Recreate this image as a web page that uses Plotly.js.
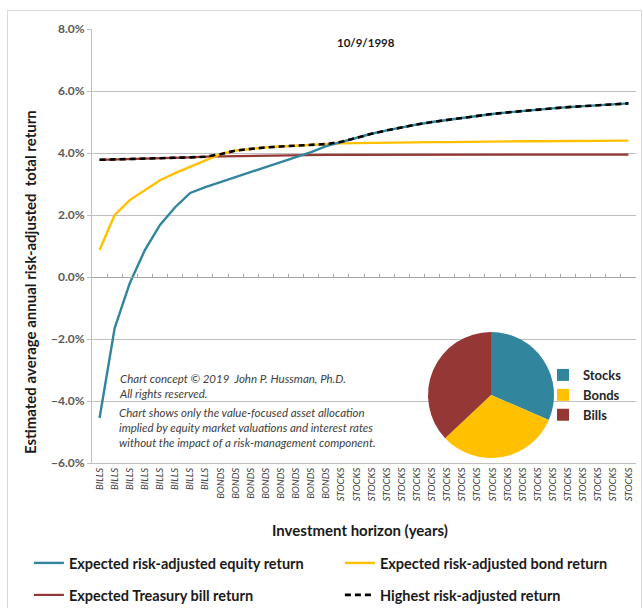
<!DOCTYPE html>
<html>
<head>
<meta charset="utf-8">
<script src="https://cdn.plot.ly/plotly-3.0.1.min.js"></script>
<style>
  html, body { margin: 0; padding: 0; background: #ffffff; }
  #frame { position: absolute; left: 7px; top: 10px; width: 633px; height: 610px; border: 1px solid #d9d9d9; }
  #chart { position: absolute; left: 0; top: 0; width: 643px; height: 608px; }
  #chart .crisp, #chart path.ygrid { shape-rendering: crispEdges; }
</style>
</head>
<body>
<div id="frame"></div>
<div id="chart"></div>
<script>
// ---- data ----
const horizonIndex = [0,1,2,3,4,5,6,7,8,9,10,11,12,13,14,15,16,17,18,19,20,21,22,23,24,25,26,27,28,29,30,31,32,33,34,35];
const horizonLabels = [
  'BILLS','BILLS','BILLS','BILLS','BILLS','BILLS','BILLS','BILLS',
  'BONDS','BONDS','BONDS','BONDS','BONDS','BONDS','BONDS','BONDS',
  'STOCKS','STOCKS','STOCKS','STOCKS','STOCKS','STOCKS','STOCKS','STOCKS','STOCKS','STOCKS',
  'STOCKS','STOCKS','STOCKS','STOCKS','STOCKS','STOCKS','STOCKS','STOCKS','STOCKS','STOCKS'
];
const equityReturn = [-4.55,-1.65,-0.2,0.87,1.68,2.25,2.71,2.9,3.06,3.22,3.38,3.55,3.72,3.88,4.03,4.22,
  4.36,4.5,4.62,4.73,4.83,4.92,5.0,5.07,5.14,5.2,5.26,5.31,5.36,5.4,5.44,5.48,5.51,5.54,5.57,5.6];
const bondReturn = [0.87,2.0,2.48,2.8,3.12,3.35,3.55,3.75,3.96,4.08,4.14,4.18,4.21,4.24,4.27,4.29,
  4.31,4.32,4.33,4.33,4.34,4.34,4.35,4.35,4.36,4.36,4.37,4.37,4.38,4.38,4.38,4.39,4.39,4.39,4.4,4.4];
const billReturn = [3.78,3.79,3.8,3.82,3.83,3.85,3.86,3.88,3.89,3.9,3.91,3.92,3.92,3.93,3.93,3.94,
  3.94,3.94,3.95,3.95,3.95,3.95,3.95,3.95,3.95,3.95,3.95,3.95,3.95,3.95,3.95,3.95,3.95,3.95,3.95,3.95];
const highestReturn = [3.78,3.79,3.8,3.82,3.83,3.85,3.86,3.88,3.96,4.08,4.14,4.18,4.21,4.24,4.27,4.29,
  4.36,4.5,4.62,4.73,4.83,4.92,5.0,5.07,5.14,5.2,5.26,5.31,5.36,5.4,5.44,5.48,5.51,5.54,5.57,5.6];
const pieLabels = ['Stocks','Bonds','Bills'];
const pieValues = [31.5, 31.5, 37];

// ---- styles ----
const TEAL = '#31859c', GOLD = '#ffc000', MAROON = '#953735';
const FONT = 'Lato, "Open Sans", sans-serif';

const traces = [
  { x: horizonIndex, y: billReturn, type: 'scatter', mode: 'lines', name: 'Expected Treasury bill return',
    line: { color: MAROON, width: 2.2 }, legend: 'legend2', legendrank: 1, hoverinfo: 'skip' },
  { x: horizonIndex, y: bondReturn, type: 'scatter', mode: 'lines', name: 'Expected risk-adjusted bond return',
    line: { color: GOLD, width: 2.4 }, legend: 'legend', legendrank: 2, hoverinfo: 'skip' },
  { x: horizonIndex, y: equityReturn, type: 'scatter', mode: 'lines', name: 'Expected risk-adjusted equity return',
    line: { color: TEAL, width: 2.4 }, legend: 'legend', legendrank: 1, hoverinfo: 'skip' },
  { x: horizonIndex, y: highestReturn, type: 'scatter', mode: 'lines', name: 'Highest risk-adjusted return',
    xaxis: 'x2', yaxis: 'y2', line: { color: '#000000', width: 2.6, dash: '6px,4px' }, legend: 'legend2', legendrank: 2, hoverinfo: 'skip' },
  { type: 'pie', labels: pieLabels, values: pieValues, sort: false, direction: 'clockwise', rotation: 0,
    marker: { colors: [TEAL, GOLD, MAROON], line: { width: 0 } }, textinfo: 'none', hoverinfo: 'skip',
    domain: { x: [0.6176, 0.8493], y: [0.0115, 0.3018] }, legend: 'legend3' }
];

const plotW = 544, plotH = 434;
const layout = {
  width: 643, height: 608,
  margin: { l: 92, r: 7, t: 29, b: 145, pad: 0, autoexpand: false },
  paper_bgcolor: 'rgba(0,0,0,0)', plot_bgcolor: 'rgba(0,0,0,0)',
  font: { family: FONT, color: '#404040' },
  showlegend: true,
  xaxis: {
    type: 'linear', range: [-0.5, 35.5], domain: [0, 1], tickmode: 'array', tickvals: horizonIndex, ticktext: horizonLabels,
    tickangle: -90, tickfont: { size: 9.5, style: 'italic', color: '#404040', family: FONT },
    showgrid: false, zeroline: false, showline: true, linecolor: '#bfbfbf', linewidth: 1, ticks: '',
    automargin: false, fixedrange: true
  },
  yaxis: {
    range: [-6, 8], domain: [0, 1], tickmode: 'linear', tick0: -6, dtick: 2, tickformat: '.1f', ticksuffix: '%',
    tickfont: { size: 12, weight: 'bold', color: '#595959', family: FONT },
    showgrid: true, gridcolor: '#bfbfbf', gridwidth: 1, zeroline: false,
    showline: true, linecolor: '#bfbfbf', ticks: 'outside', ticklen: 4, tickcolor: '#bfbfbf',
    automargin: false, fixedrange: true
  },
  xaxis2: {
    type: 'linear', range: [-0.5, 35.5], domain: [0, 1], anchor: 'free', position: 6/14,
    tickmode: 'linear', tick0: 0.5, dtick: 1, ticks: 'inside', ticklen: 3, tickcolor: '#a6a6a6',
    showticklabels: false, showgrid: false, zeroline: false, showline: true, linecolor: '#a6a6a6', linewidth: 1,
    automargin: false, fixedrange: true
  },
  yaxis2: {
    range: [-6, 8], domain: [0, 1], anchor: 'x2', visible: false, showgrid: false, zeroline: false,
    automargin: false, fixedrange: true
  },
  legend: {
    orientation: 'h', x: -0.116, y: -0.2304, xanchor: 'left', yanchor: 'middle',
    entrywidth: 266, entrywidthmode: 'pixels', bgcolor: 'rgba(0,0,0,0)',
    font: { size: 14.5, weight: 'bold', color: '#1a1a1a', family: FONT }, traceorder: 'normal'
  },
  legend2: {
    orientation: 'h', x: -0.116, y: -0.3041, xanchor: 'left', yanchor: 'middle',
    entrywidth: 266, entrywidthmode: 'pixels', bgcolor: 'rgba(0,0,0,0)',
    font: { size: 14.5, weight: 'bold', color: '#1a1a1a', family: FONT }, traceorder: 'normal'
  },
  legend3: {
    orientation: 'v', x: 0.829, y: 0.1567, xanchor: 'left', yanchor: 'middle', bgcolor: 'rgba(0,0,0,0)',
    font: { size: 13, weight: 'bold', color: '#262626', family: FONT }
  },
  annotations: [
    { text: '<b>10/9/1998</b>', xref: 'paper', yref: 'paper', x: 0.504, y: 0.968, showarrow: false,
      font: { size: 11.5, color: '#1a1a1a', family: FONT }, xanchor: 'center', yanchor: 'middle' },
    { text: '<b>Investment horizon (years)</b>', xref: 'paper', yref: 'paper', x: 0.4926, y: -0.154, showarrow: false,
      font: { size: 15, color: '#1a1a1a', family: FONT }, xanchor: 'center', yanchor: 'middle' },
    { text: '<b>Estimated average annual risk-adjusted  total return</b>', xref: 'paper', yref: 'paper',
      x: -0.114, y: 0.417, textangle: -90, showarrow: false,
      font: { size: 15, color: '#1a1a1a', family: FONT }, xanchor: 'center', yanchor: 'middle' },
    { text: '<i>Chart concept © 2019  John P. Hussman, Ph.D.<br>All rights reserved.</i>', xref: 'paper', yref: 'paper',
      x: (117 - 92) / plotW, y: (463 - 370) / plotH, showarrow: false, align: 'left',
      font: { size: 11.5, color: '#404040', family: FONT }, xanchor: 'left', yanchor: 'top' },
    { text: '<i>Chart shows only the value-focused asset allocation<br>implied by equity market valuations and interest rates<br>without the impact of a risk-management component.</i>',
      xref: 'paper', yref: 'paper', x: (117 - 92) / plotW, y: (463 - 404) / plotH, showarrow: false, align: 'left',
      font: { size: 11.5, color: '#404040', family: FONT }, xanchor: 'left', yanchor: 'top' }
  ]
};

Plotly.newPlot('chart', traces, layout, { displayModeBar: false, staticPlot: true });
</script>
</body>
</html>
